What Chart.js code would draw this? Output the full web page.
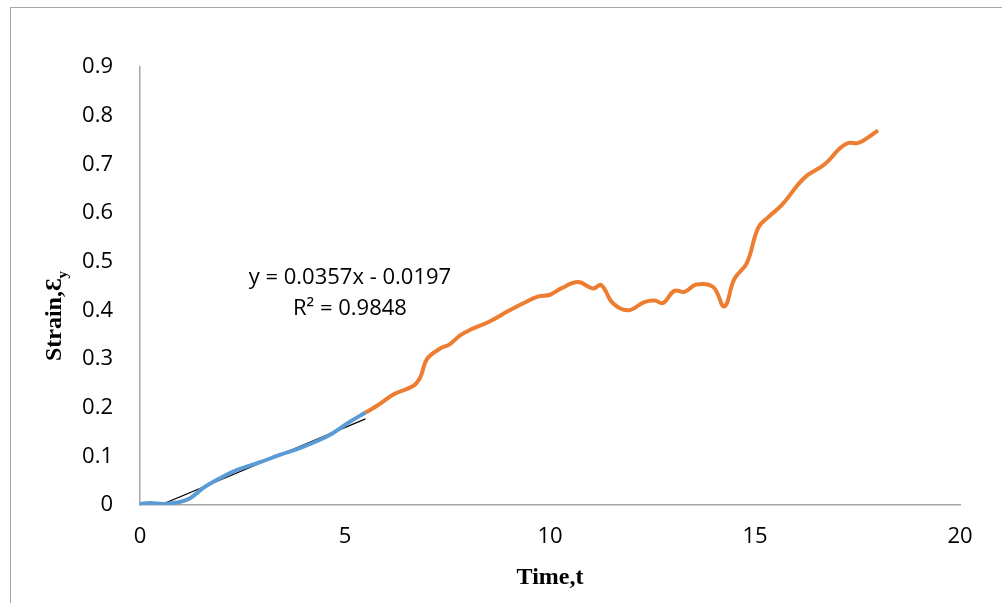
<!DOCTYPE html>
<html lang="en">
<head>
  <meta charset="UTF-8" />
  <title>Strain vs Time</title>
  <script src="https://cdn.jsdelivr.net/npm/chart.js"></script>
  <style>
    html, body { margin: 0; padding: 0; background: #fff; }
    #wrap { position: relative; width: 1002px; height: 603px; }
    #frame { position: absolute; left: 10px; top: 7px; width: 1100px; height: 700px;
             border-left: 1px solid #a6a6a6; border-top: 1px solid #a6a6a6; }
  </style>
</head>
<body>
  <div id="wrap">
    <div id="frame"></div>
    <canvas id="strainChart" width="1002" height="603"></canvas>
  </div>

  <script>
    // blue part (fitted section)
    const blueX = [0, 0.25, 0.56, 0.9, 1.22, 1.54, 1.95, 2.37, 2.93, 3.41, 3.9, 4.39, 4.71, 5.12, 5.5];
    const blueY = [0.002, 0.004, 0.002, 0.005, 0.014, 0.035, 0.055, 0.072, 0.088, 0.103, 0.117, 0.134, 0.148, 0.171, 0.19];

    // orange part
    const orangeX = [5.5, 5.8, 6.2, 6.67, 6.84, 7.0, 7.33, 7.55, 7.8, 8.1, 8.5, 8.97, 9.36, 9.7, 10.0,
                     10.27, 10.68, 11.05, 11.25, 11.53, 11.9, 12.3, 12.55, 12.76, 13.03, 13.28, 13.57,
                     13.98, 14.25, 14.5, 14.8, 15.08, 15.33, 15.65, 16.2, 16.7, 17.07, 17.28, 17.52, 17.77, 18.0];
    const orangeY = [0.19, 0.205, 0.228, 0.245, 0.263, 0.30, 0.322, 0.33, 0.348, 0.362, 0.376, 0.398, 0.415, 0.428, 0.432,
                     0.445, 0.458, 0.445, 0.452, 0.415, 0.40, 0.417, 0.42, 0.415, 0.44, 0.438, 0.453,
                     0.448, 0.408, 0.465, 0.497, 0.57, 0.592, 0.616, 0.672, 0.70, 0.733, 0.744, 0.744, 0.756, 0.77];

    // linear trendline endpoints
    const trendX = [0.5, 5.5];
    const trendY = [0.0, 0.177];

    const trendLabel = ["y = 0.0357x - 0.0197", "R² = 0.9848"];
    const xTitle = "Time,t";
    const yTitle = "Strain,Ɛ";
    const yTitleSub = "y";

    const pts = (xs, ys) => xs.map((x, i) => ({ x, y: ys[i] }));

    const textPlugin = {
      id: "extraText",
      afterDraw(chart) {
        const ctx = chart.ctx;
        const xs = chart.scales.x, ys = chart.scales.y;
        ctx.save();
        ctx.fillStyle = "#000";
        ctx.textAlign = "center";
        ctx.textBaseline = "middle";
        ctx.font = "22px 'Open Sans'";
        const cx = xs.getPixelForValue(5.12);
        ctx.fillText(trendLabel[0], cx, ys.getPixelForValue(0.468));
        ctx.fillText(trendLabel[1], cx, ys.getPixelForValue(0.403));

        // x title
        ctx.font = "bold 24px 'Liberation Serif'";
        ctx.fillText(xTitle, (xs.left + xs.right) / 2, 578);

        // y title, rotated, with subscript
        ctx.translate(55, 316);
        ctx.rotate(-Math.PI / 2);
        ctx.font = "bold 24px 'Liberation Serif'";
        const w1 = ctx.measureText(yTitle).width;
        ctx.font = "bold 15px 'Liberation Serif'";
        const w2 = ctx.measureText(yTitleSub).width;
        const start = -(w1 + w2) / 2;
        ctx.textAlign = "left";
        ctx.font = "bold 24px 'Liberation Serif'";
        ctx.fillText(yTitle, start, 0);
        ctx.font = "bold 15px 'Liberation Serif'";
        ctx.fillText(yTitleSub, start + w1, 8);
        ctx.restore();
      }
    };

    new Chart(document.getElementById("strainChart"), {
      type: "line",
      data: {
        datasets: [
          {
            data: pts(blueX, blueY),
            borderColor: "#5B9BD5",
            borderWidth: 4,
            pointRadius: 0,
            tension: 0.4
          },
          {
            data: pts(orangeX, orangeY),
            borderColor: "#ED7D31",
            borderWidth: 4,
            pointRadius: 0,
            tension: 0.4
          },
          {
            data: pts(trendX, trendY),
            borderColor: "#000",
            borderWidth: 1.2,
            pointRadius: 0,
            tension: 0
          }
        ]
      },
      options: {
        responsive: false,
        animation: false,
        layout: { padding: { left: 0, top: 67, right: 42, bottom: 0 } },
        plugins: { legend: { display: false }, tooltip: { enabled: false } },
        scales: {
          x: {
            type: "linear",
            min: 0, max: 20,
            afterFit: s => { s.height = 98; },
            grid: { display: false, drawTicks: false },
            border: { color: "#a6a6a6", width: 1.5 },
            ticks: { stepSize: 5, padding: 19, color: "#000", font: { family: "Open Sans", size: 22 } }
          },
          y: {
            min: 0, max: 0.9,
            afterFit: s => { s.width = 140; },
            grid: { display: false, drawTicks: false },
            border: { color: "#a6a6a6", width: 1.5 },
            ticks: { stepSize: 0.1, padding: 27, color: "#000", font: { family: "Open Sans", size: 22 } }
          }
        }
      },
      plugins: [textPlugin]
    });
  </script>
</body>
</html>
